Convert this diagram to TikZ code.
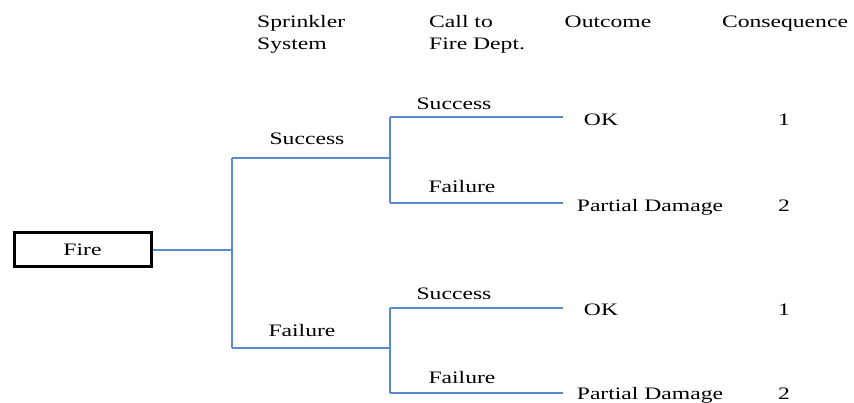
\documentclass[tikz,border=0pt]{standalone}
\usepackage{fontspec}
\setmainfont[FakeStretch=1.35]{Liberation Serif}
\definecolor{treeblue}{RGB}{88,138,205}
\begin{document}
\begin{tikzpicture}[x=1pt,y=-1pt,
  branch/.style={line width=1.4pt, color=treeblue},
  lbl/.style={inner sep=0pt, anchor=base, font=\fontsize{17.5}{22}\selectfont},
  head/.style={inner sep=0pt, anchor=base west, align=left, font=\fontsize{17.5}{22}\selectfont},
  event/.style={draw=black, line width=3pt, minimum width=137pt, minimum height=34pt, inner sep=0pt, font=\fontsize{17.5}{22}\selectfont}]
\useasboundingbox (0,0) rectangle (854,403);

% column headings (two-line ones are placed by their last baseline)
\node[head] (hsp) at (257,50) {Sprinkler\\System};
\node[head] (hcall) at (429,50) {Call to\\Fire Dept.};
\node[lbl] (hout) at (608,28) {Outcome};
\node[lbl] (hcons) at (785,28) {Consequence};

% initiating event
\node[event] (fire) at (82.5,250) {Fire};

% branch points
\coordinate (j0) at (232,250);
\coordinate (sA) at (232,158);
\coordinate (fA) at (232,348);
\coordinate (sB) at (390,158);
\coordinate (fB) at (390,348);
\coordinate (sBs) at (390,117);
\coordinate (sBf) at (390,203);
\coordinate (fBs) at (390,308);
\coordinate (fBf) at (390,393);
\coordinate (e1) at (563,117);
\coordinate (e2) at (563,203);
\coordinate (e3) at (563,308);
\coordinate (e4) at (563,393);

% tree connectors
\draw[branch] (fire.east) -- (j0);
\draw[branch] (sA) -- (fA);
\draw[branch] (sA) -- (sB);
\draw[branch] (fA) -- (fB);
\draw[branch] (sBs) -- (sBf);
\draw[branch] (fBs) -- (fBf);
\draw[branch] (sBs) -- (e1);
\draw[branch] (sBf) -- (e2);
\draw[branch] (fBs) -- (e3);
\draw[branch] (fBf) -- (e4);

% branch labels
\node[lbl] (l1) at (307,145) {Success};
\node[lbl] (l2) at (302,336) {Failure};
\node[lbl] (l3) at (454,110) {Success};
\node[lbl] (l4) at (462,193) {Failure};
\node[lbl] (l5) at (454,300) {Success};
\node[lbl] (l6) at (462,383) {Failure};

% outcomes and consequences
\node[lbl] (o1) at (601,126) {OK};
\node[lbl] (o2) at (650,212) {Partial Damage};
\node[lbl] (o3) at (601,316) {OK};
\node[lbl] (o4) at (650,399) {Partial Damage};
\node[lbl] (c1) at (784,126) {1};
\node[lbl] (c2) at (784,212) {2};
\node[lbl] (c3) at (784,316) {1};
\node[lbl] (c4) at (784,399) {2};
\end{tikzpicture}
\end{document}
